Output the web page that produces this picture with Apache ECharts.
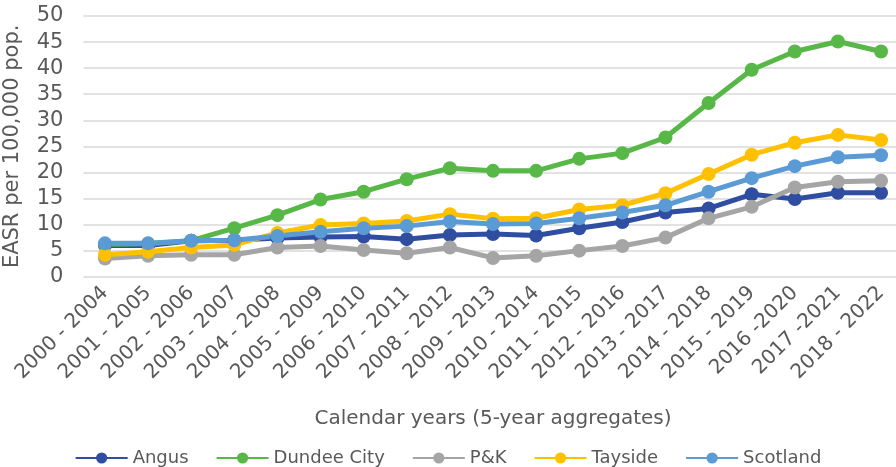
<!DOCTYPE html>
<html>
<head>
<meta charset="utf-8">
<script src="https://cdn.jsdelivr.net/npm/echarts@6/dist/echarts.min.js"></script>
<style>html,body{margin:0;padding:0;background:#fff}#c{width:896px;height:467px}</style>
</head>
<body>
<div id="c"></div>
<script>
const categories = ["2000 - 2004","2001 - 2005","2002 - 2006","2003 - 2007","2004 - 2008","2005 - 2009","2006 - 2010","2007 - 2011","2008 - 2012","2009 - 2013","2010 - 2014","2011 - 2015","2012 - 2016","2013 - 2017","2014 - 2018","2015 - 2019","2016 -2020","2017 -2021","2018 - 2022"];
const angus    = [6.0, 6.0, 6.9, 7.0, 7.4, 7.6, 7.7, 7.2, 8.0, 8.2, 7.9, 9.3, 10.5, 12.3, 13.1, 15.8, 14.9, 16.1, 16.1];
const dundee   = [6.2, 6.3, 6.9, 9.3, 11.8, 14.8, 16.3, 18.7, 20.8, 20.3, 20.3, 22.6, 23.7, 26.7, 33.3, 39.7, 43.2, 45.1, 43.2];
const pk       = [3.5, 4.0, 4.2, 4.2, 5.6, 5.9, 5.1, 4.5, 5.6, 3.6, 4.0, 5.0, 5.9, 7.5, 11.2, 13.4, 17.1, 18.2, 18.4];
const tayside  = [4.2, 4.8, 5.6, 6.1, 8.4, 9.9, 10.2, 10.7, 12.0, 11.1, 11.2, 12.9, 13.7, 16.0, 19.7, 23.4, 25.7, 27.2, 26.2];
const scotland = [6.4, 6.4, 6.9, 7.0, 7.8, 8.6, 9.3, 9.7, 10.6, 10.1, 10.2, 11.2, 12.3, 13.7, 16.3, 18.9, 21.2, 22.9, 23.3];
const seriesNames = ["Angus","Dundee City","P&K","Tayside","Scotland"];
const seriesData = [angus, dundee, pk, tayside, scotland];
const colors = ["#2F4EA2","#57B847","#A5A5A5","#FFC000","#5B9BD5"];
const yTitle = "EASR per 100,000 pop.";
const xTitle = "Calendar years (5-year aggregates)";

const font = "DejaVu Sans";
const txt = "#595959";
const chart = echarts.init(document.getElementById('c'), null, {renderer:'canvas'});
chart.setOption({
  animation: false,
  textStyle: {fontFamily: font},
  grid: {left: 83.4, right: -6.6, top: 16, bottom: 190.3, outerBoundsMode: 'none'},
  legend: {
    top: 444, left: 'center',
    itemWidth: 52, itemHeight: 14, itemGap: 27,
    textStyle: {color: txt, fontSize: 18, fontFamily: font},
    data: seriesNames
  },
  xAxis: {
    type: 'category', data: categories, boundaryGap: true,
    axisLine: {show: false}, axisTick: {show: false},
    axisLabel: {rotate: 45, color: txt, fontSize: 20, margin: 13, interval: 0, fontFamily: font},
    name: xTitle, nameLocation: 'middle', nameGap: 132,
    nameTextStyle: {color: txt, fontSize: 20, fontFamily: font}
  },
  yAxis: {
    type: 'value', min: 0, max: 50, interval: 5,
    axisLine: {show: false}, axisTick: {show: false},
    axisLabel: {color: txt, fontSize: 21, margin: 20, fontFamily: font},
    splitLine: {lineStyle: {color: '#D9D9D9', width: 1.5}},
    name: yTitle, nameLocation: 'middle', nameGap: 60,
    nameTextStyle: {color: txt, fontSize: 21, fontFamily: font}
  },
  series: seriesNames.map((n, i) => ({
    name: n, type: 'line', data: seriesData[i],
    symbol: 'circle', symbolSize: 14,
    lineStyle: {color: colors[i], width: 5},
    itemStyle: {color: colors[i]}
  }))
});
</script>
</body>
</html>
